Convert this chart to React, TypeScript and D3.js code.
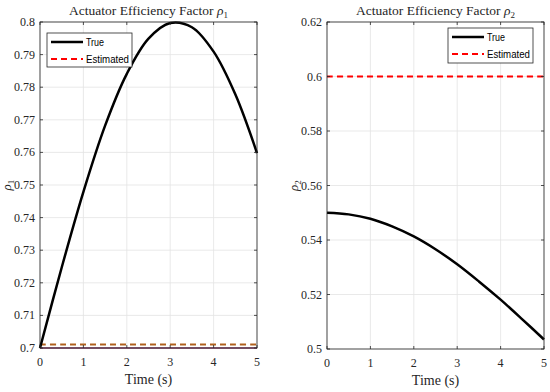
import React from "react";
import * as d3 from "d3";

// time samples (s)
const time = [0, 0.5, 1, 1.5, 2, 2.5, 3, 3.5, 4, 4.5, 5];

// rho_1: true and estimated
const rho1True = [0.7, 0.7247, 0.7479, 0.7682, 0.7841, 0.7949, 0.7997, 0.7984, 0.7909, 0.7778, 0.7598];
const rho1Est = [0.7011, 0.7011, 0.7011, 0.7011, 0.7011, 0.7011, 0.7011, 0.7011, 0.7011, 0.7011, 0.7011];
const rho1Floor = [0.7, 0.7, 0.7, 0.7, 0.7, 0.7, 0.7, 0.7, 0.7, 0.7, 0.7];

// rho_2: true and estimated
const rho2True = [0.55, 0.5494, 0.5478, 0.545, 0.5413, 0.5366, 0.5311, 0.5248, 0.5181, 0.5109, 0.5035];
const rho2Est = [0.6, 0.6, 0.6, 0.6, 0.6, 0.6, 0.6, 0.6, 0.6, 0.6, 0.6];

const xTicks = [0, 1, 2, 3, 4, 5];
const y1Ticks = [0.7, 0.71, 0.72, 0.73, 0.74, 0.75, 0.76, 0.77, 0.78, 0.79, 0.8];
const y2Ticks = [0.5, 0.52, 0.54, 0.56, 0.58, 0.6, 0.62];

const serif = "Liberation Serif";
const sans = "Liberation Sans";

type Series = { values: number[]; color: string; width: number; dash?: string };

type PanelProps = {
  left: number;
  right: number;
  top: number;
  bottom: number;
  yDomain: [number, number];
  yTicks: number[];
  series: Series[];
  sub: string;
  legend: { x: number; y: number; w: number; h: number };
};

const Panel = (props: PanelProps) => {
  const { left, right, top, bottom, yDomain, yTicks, series, sub, legend } = props;
  const x = d3.scaleLinear().domain([0, 5]).range([left, right]);
  const y = d3.scaleLinear().domain(yDomain).range([bottom, top]);
  const line = d3
    .line<number>()
    .x((_, i) => x(time[i]))
    .y((d) => y(d))
    .curve(d3.curveCatmullRom);
  const axisColor = "#262626";
  const tickLen = 3;
  const cx = (left + right) / 2;
  const cy = (top + bottom) / 2;

  return (
    <g>
      {/* grid */}
      {xTicks.map((t) => (
        <line key={"gx" + t} x1={x(t)} x2={x(t)} y1={top} y2={bottom} stroke="#e3e3e3" strokeWidth={0.8} />
      ))}
      {yTicks.map((t) => (
        <line key={"gy" + t} x1={left} x2={right} y1={y(t)} y2={y(t)} stroke="#e3e3e3" strokeWidth={0.8} />
      ))}
      {/* data */}
      {series.map((s, i) => (
        <path
          key={"s" + i}
          d={line(s.values) || ""}
          fill="none"
          stroke={s.color}
          strokeWidth={s.width}
          strokeDasharray={s.dash}
        />
      ))}
      {/* box */}
      <rect x={left} y={top} width={right - left} height={bottom - top} fill="none" stroke={axisColor} strokeWidth={0.8} />
      {xTicks.map((t) => (
        <g key={"tx" + t}>
          <line x1={x(t)} x2={x(t)} y1={bottom} y2={bottom - tickLen} stroke={axisColor} strokeWidth={0.8} />
          <line x1={x(t)} x2={x(t)} y1={top} y2={top + tickLen} stroke={axisColor} strokeWidth={0.8} />
          <text x={x(t)} y={bottom + 18} textAnchor="middle" fontFamily={serif} fontSize={12} fill="#262626">
            {t}
          </text>
        </g>
      ))}
      {yTicks.map((t) => (
        <g key={"ty" + t}>
          <line x1={left} x2={left + tickLen} y1={y(t)} y2={y(t)} stroke={axisColor} strokeWidth={0.8} />
          <line x1={right} x2={right - tickLen} y1={y(t)} y2={y(t)} stroke={axisColor} strokeWidth={0.8} />
          <text x={left - 5} y={y(t) + 4} textAnchor="end" fontFamily={serif} fontSize={12} fill="#262626">
            {String(+t.toFixed(2))}
          </text>
        </g>
      ))}
      {/* title */}
      <text x={cx} y={top - 7} textAnchor="middle" fontFamily={serif} fontSize={13.5} fill="#262626">
        Actuator Efficiency Factor{" "}
        <tspan fontStyle="italic">ρ</tspan>
        <tspan fontSize={9} dy={3}>{sub}</tspan>
      </text>
      {/* x label */}
      <text x={cx} y={bottom + 36} textAnchor="middle" fontFamily={serif} fontSize={14} fill="#262626">
        Time (s)
      </text>
      {/* y label */}
      <text
        transform={`translate(${left - 29}, ${cy}) rotate(-90)`}
        textAnchor="middle"
        fontFamily={serif}
        fontSize={13}
        fill="#262626"
      >
        <tspan fontStyle="italic">ρ</tspan>
        <tspan fontSize={9} dy={3}>{sub}</tspan>
      </text>
      {/* legend */}
      <rect x={legend.x} y={legend.y} width={legend.w} height={legend.h} fill="#fff" stroke={axisColor} strokeWidth={0.8} />
      <line x1={legend.x + 4} x2={legend.x + 36} y1={legend.y + 9} y2={legend.y + 9} stroke="#000" strokeWidth={2.5} />
      <text x={legend.x + 39} y={legend.y + 13} fontFamily={sans} fontSize={11.5} fill="#000" textLength={18} lengthAdjust="spacingAndGlyphs">
        True
      </text>
      <line
        x1={legend.x + 4}
        x2={legend.x + 36}
        y1={legend.y + 26}
        y2={legend.y + 26}
        stroke="#ff0000"
        strokeWidth={2}
        strokeDasharray="6,4"
      />
      <text x={legend.x + 39} y={legend.y + 30} fontFamily={sans} fontSize={11.5} fill="#000" textLength={43} lengthAdjust="spacingAndGlyphs">
        Estimated
      </text>
    </g>
  );
};

const App = () => {
  return (
    <svg width={550} height={392} style={{ position: "absolute", left: 0, top: 0, background: "#fff" }}>
      <Panel
        left={40}
        right={257}
        top={22}
        bottom={348}
        yDomain={[0.7, 0.8]}
        yTicks={y1Ticks}
        sub="1"
        series={[
          { values: rho1Floor, color: "#8e3b6b", width: 1.5 },
          { values: rho1Est, color: "#b0601c", width: 2, dash: "6,4" },
          { values: rho1True, color: "#000", width: 2.5 },
        ]}
        legend={{ x: 47, y: 33, w: 85, h: 34 }}
      />
      <Panel
        left={327}
        right={544}
        top={22}
        bottom={349}
        yDomain={[0.5, 0.62]}
        yTicks={y2Ticks}
        sub="2"
        series={[
          { values: rho2Est, color: "#ff0000", width: 2, dash: "6,4" },
          { values: rho2True, color: "#000", width: 2.5 },
        ]}
        legend={{ x: 448, y: 28, w: 85, h: 35 }}
      />
    </svg>
  );
};

export default App;
